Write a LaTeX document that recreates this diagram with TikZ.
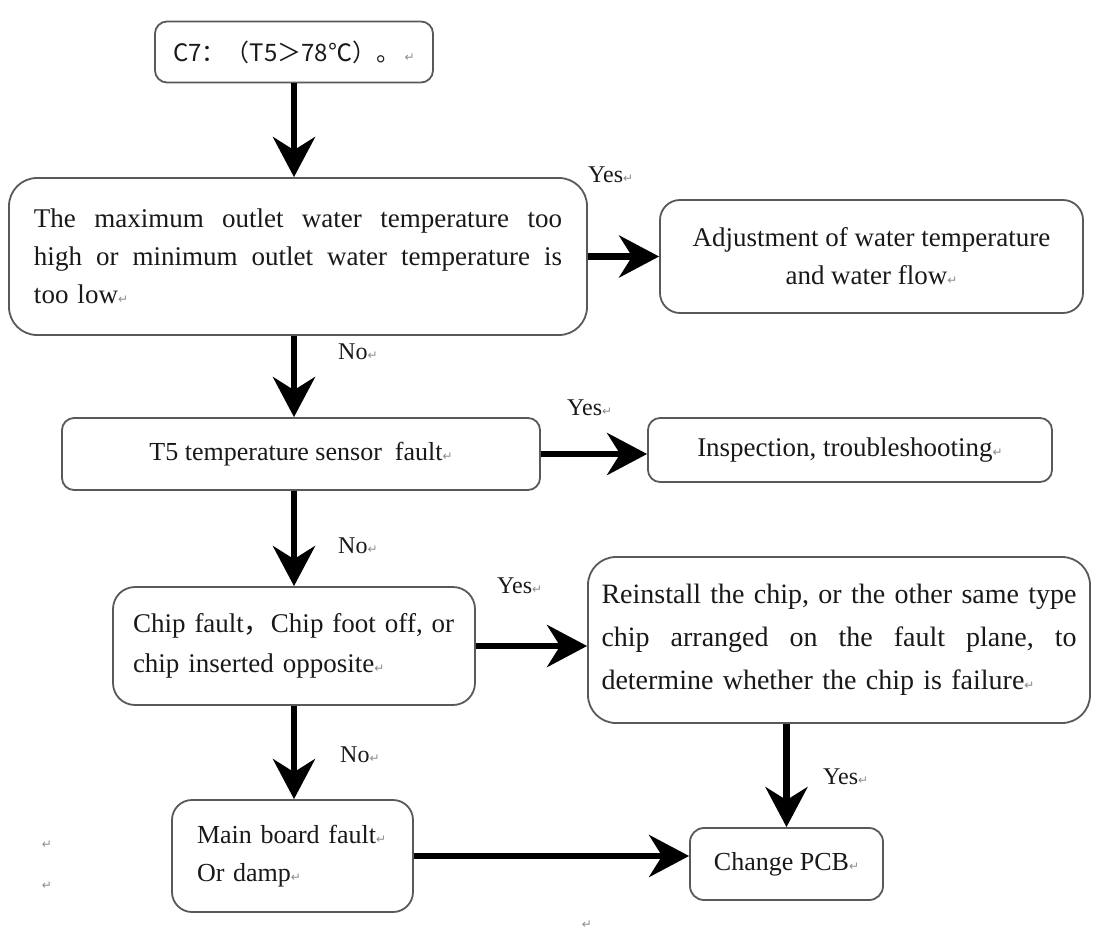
\documentclass[tikz,border=0pt]{standalone}
\usepackage{fontspec}
\setmainfont{Liberation Serif}
\newfontfamily\cjk{Noto Sans CJK SC}
\newfontfamily\retfont{DejaVu Sans}
\usetikzlibrary{arrows.meta}
\newcommand\retmark{{\retfont\fontsize{12}{12}\selectfont\textcolor{black!45}{↵}}}
\newcommand\jline[2]{\leavevmode\hbox to #1{#2}}
\begin{document}
\begin{tikzpicture}[x=1pt,y=-1pt,
  box/.style={draw=black!65, line width=1.8pt, fill=white, rounded corners=#1,
    inner sep=0pt, text=black!90, font=\fontsize{26}{38}\selectfont},
  box/.default=14pt,
  flow/.style={line width=6.5pt, black, -{Stealth[length=40pt,width=42pt,inset=13pt]}},
  lbl/.style={anchor=west, inner sep=0pt, text=black!90, font=\fontsize{24}{24}\selectfont},
  stray/.style={inner sep=0pt}]
\path[use as bounding box] (0,0) rectangle (1093,934);

% boxes
\node[box=12pt, minimum width=278pt, minimum height=61pt] (c7) at (294,52)
  {{\cjk\fontsize{24}{24}\selectfont C7：（T5＞78℃）。}\,\retmark};
\node[box=28pt, minimum width=578pt, minimum height=157pt, text width=528pt, align=left,
  font=\fontsize{27}{38}\selectfont] (q1) at (298,256.5)
  {\jline{528pt}{The\hfill maximum\hfill outlet\hfill water\hfill temperature\hfill too}\\
   \jline{528pt}{high\hfill or\hfill minimum\hfill outlet\hfill water\hfill temperature\hfill is}\\
   too low\retmark};
\node[box=20pt, minimum width=423pt, minimum height=113pt, align=center,
  font=\fontsize{27}{38}\selectfont] (adj) at (871.5,256.5)
  {Adjustment of water temperature\\ and water flow\retmark};
\node[box=12pt, minimum width=478pt, minimum height=72pt] (t5) at (301,454)
  {T5 temperature sensor\ \ fault\retmark};
\node[box=12pt, minimum width=404pt, minimum height=64pt, font=\fontsize{27}{38}\selectfont] (insp) at (850,450)
  {Inspection, troubleshooting\retmark};
\node[box=22pt, minimum width=362pt, minimum height=118pt, text width=322pt, align=left,
  font=\fontsize{27}{40}\selectfont] (chip) at (294,646)
  {Chip fault{\cjk ，}Chip foot off, or\\ chip inserted opposite\retmark};
\node[box=28pt, minimum width=502pt, minimum height=166pt, text width=475pt, align=left,
  font=\fontsize{28}{43}\selectfont] (re) at (839,640)
  {\jline{475pt}{Reinstall\hfill the\hfill chip,\hfill or\hfill the\hfill other\hfill same\hfill type}\\
   \jline{475pt}{chip\hfill arranged\hfill on\hfill the\hfill fault\hfill plane,\hfill to}\\
   determine whether the chip is failure\retmark};
\node[box=20pt, minimum width=241pt, minimum height=112pt, text width=191pt, align=left] (main) at (292.5,856)
  {Main board fault\retmark\\ Or damp\retmark};
\node[box=14pt, minimum width=193pt, minimum height=72pt] (pcb) at (786.5,864)
  {Change PCB\retmark};

% connectors
\draw[flow] (c7.south) -- (c7.south |- q1.north);
\draw[flow] (q1.east) -- (adj.west);
\draw[flow] (q1.south -| c7.south) -- (c7.south |- t5.north);
\draw[flow] (t5.east) -- (t5.east -| insp.west);
\draw[flow] (t5.south -| c7.south) -- (chip.north -| c7.south);
\draw[flow] (chip.east) -- (chip.east -| re.west);
\draw[flow] (chip.south -| c7.south) -- (main.north -| c7.south);
\draw[flow] (main.east) -- (main.east -| pcb.west);
\draw[flow] (pcb.north |- re.south) -- (pcb.north);

% labels
\node[lbl] (y1) at (588,175) {Yes\retmark};
\node[lbl] (n1) at (338,352) {No\retmark};
\node[lbl] (y2) at (567,408) {Yes\retmark};
\node[lbl] (n2) at (338,546) {No\retmark};
\node[lbl] (y3) at (497,586) {Yes\retmark};
\node[lbl] (n3) at (340,755) {No\retmark};
\node[lbl] (y4) at (823,777) {Yes\retmark};

% stray paragraph marks
\node[stray] (s1) at (47,845) {\retmark};
\node[stray] (s2) at (47,886) {\retmark};
\node[stray] (s3) at (587,925) {\retmark};
\end{tikzpicture}
\end{document}
